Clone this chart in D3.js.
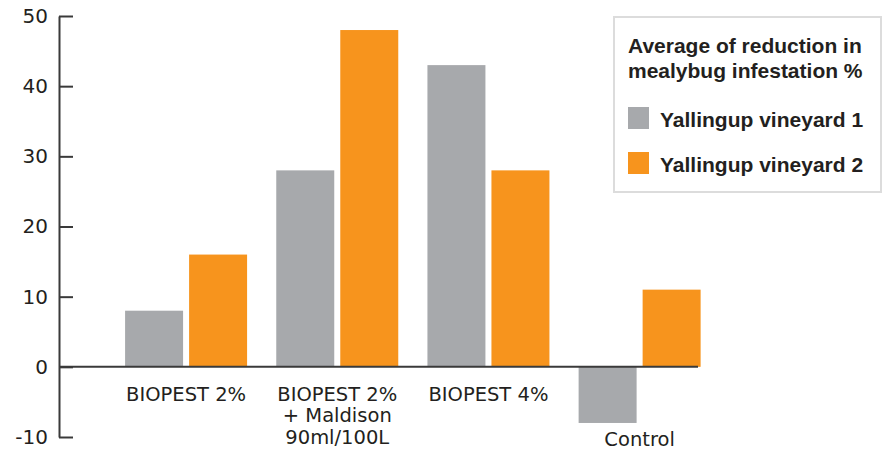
<!DOCTYPE html>
<html>
<head>
<meta charset="utf-8">
<script src="https://cdn.jsdelivr.net/npm/d3@7"></script>
<style>
  html, body { margin: 0; padding: 0; background: #fff; }
  svg { display: block; }
  text { fill: #231f20; }
</style>
</head>
<body>
<svg id="chart" width="890" height="450"></svg>
<script>
const categories = [["BIOPEST 2%"], ["BIOPEST 2%", "+ Maldison", "90ml/100L"], ["BIOPEST 4%"], ["Control"]];
const seriesNames = ["Yallingup vineyard 1", "Yallingup vineyard 2"];
const vineyard1 = [8, 28, 43, -8];
const vineyard2 = [16, 48, 28, 11];
const yTicks = [-10, 0, 10, 20, 30, 40, 50];
const legendTitle = ["Average of reduction in", "mealybug infestation %"];
const colors = ["#a7a9ac", "#f7941d"];

const svg = d3.select("#chart");
const catKeys = categories.map((c, i) => i);
const data = catKeys.map(i => ({ i, values: [vineyard1[i], vineyard2[i]] }));

const y = d3.scaleLinear().domain([-10, 50]).range([437, 16]);
const x0 = d3.scaleBand().domain(catKeys).range([110.5, 715.2]).paddingInner(0).paddingOuter(0);
const x1 = d3.scaleBand().domain([0, 1]).range([x0.bandwidth() / 2 - 61, x0.bandwidth() / 2 + 61]).paddingInner(0.094).paddingOuter(0);

// bars
const g = svg.append("g");
const groups = g.selectAll("g.grp").data(data).join("g")
  .attr("class", "grp")
  .attr("transform", d => `translate(${x0(d.i)},0)`);
groups.selectAll("rect").data(d => d.values.map((v, s) => ({ v, s }))).join("rect")
  .attr("x", d => x1(d.s))
  .attr("width", x1.bandwidth())
  .attr("y", d => y(Math.max(0, d.v)))
  .attr("height", d => Math.abs(y(d.v) - y(0)))
  .attr("fill", d => colors[d.s]);

// zero line
svg.append("line")
  .attr("x1", 59).attr("x2", 698)
  .attr("y1", y(0)).attr("y2", y(0))
  .attr("stroke", "#3a3a3a").attr("stroke-width", 2);

// y axis
const yAxis = d3.axisLeft(y).tickValues(yTicks).tickFormat(d => String(d))
  .tickSizeInner(-14).tickSizeOuter(0).tickPadding(11);
const ya = svg.append("g").attr("transform", "translate(59,0)").call(yAxis);
ya.select(".domain").attr("stroke", "#3a3a3a").attr("stroke-width", 2);
ya.selectAll(".tick line").attr("stroke", "#3a3a3a").attr("stroke-width", 2);
ya.selectAll(".tick text")
  .style("font-family", "'DejaVu Sans', sans-serif")
  .style("font-size", "20px").attr("fill", "#231f20");

// category labels
const labels = svg.append("g");
data.forEach(d => {
  const cx = x0(d.i) + x0.bandwidth() / 2;
  const neg = Math.min(0, ...d.values);
  const baseY = neg < 0 ? y(neg) + 23 : y(0) + 34;
  const t = labels.append("text")
    .attr("x", cx).attr("y", baseY)
    .attr("text-anchor", "middle")
    .style("font-family", "'DejaVu Sans', sans-serif")
    .style("font-size", "19.5px");
  categories[d.i].forEach((line, k) => {
    t.append("tspan").attr("x", cx).attr("dy", k === 0 ? 0 : 21.5).text(line);
  });
});

// legend
const lg = svg.append("g");
lg.append("rect")
  .attr("x", 614).attr("y", 17).attr("width", 267).attr("height", 175)
  .attr("fill", "#fff").attr("stroke", "#dcdcdc").attr("stroke-width", 2);
legendTitle.forEach((t, k) => {
  lg.append("text").attr("x", 628).attr("y", 53 + k * 25)
    .style("font-family", "'Liberation Sans', Arial, sans-serif")
    .style("font-size", "21px").style("font-weight", "bold").text(t);
});
seriesNames.forEach((name, k) => {
  const yy = 107 + k * 45;
  lg.append("rect").attr("x", 628).attr("y", yy).attr("width", 21).attr("height", 22).attr("fill", colors[k]);
  lg.append("text").attr("x", 660).attr("y", yy + 20)
    .style("font-family", "'Liberation Sans', Arial, sans-serif")
    .style("font-size", "21px").style("font-weight", "bold").text(name);
});
</script>
</body>
</html>
